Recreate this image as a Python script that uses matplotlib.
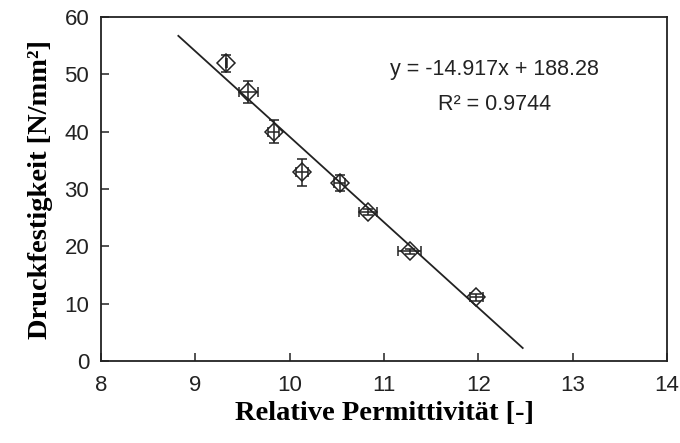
import matplotlib
matplotlib.use("Agg")
import matplotlib.pyplot as plt
import numpy as np

# Data
perm = [9.33, 9.56, 9.83, 10.13, 10.53, 10.83, 11.27, 11.98]
strength = [51.9, 46.9, 40.0, 32.9, 31.1, 26.0, 19.1, 11.1]
perm_err = [0.01, 0.10, 0.06, 0.06, 0.06, 0.10, 0.12, 0.07]
strength_err = [1.45, 1.95, 2.0, 2.3, 1.4, 0.5, 0.5, 0.6]

slope, intercept, r2 = -14.917, 188.28, 0.9744
trend_x = [8.82, 12.47]

xticks = [8, 9, 10, 11, 12, 13, 14]
yticks = [0, 10, 20, 30, 40, 50, 60]

fig = plt.figure(figsize=(6.8, 4.43), dpi=100)
ax = fig.add_axes([0.1485, 0.1851, 0.8325, 0.7765])

col = "#222222"
ax.errorbar(perm, strength, xerr=perm_err, yerr=strength_err, fmt="D",
            mfc="none", mec=col, ms=8.8, mew=1.1, ecolor=col, elinewidth=1.1,
            capsize=3.5, capthick=1.1, zorder=3)

tx = np.array(trend_x)
ax.plot(tx, slope * tx + intercept, color=col, lw=1.3, zorder=2)

ax.set_xlim(8, 14)
ax.set_ylim(0, 60)
ax.set_xticks(xticks)
ax.set_yticks(yticks)
ax.tick_params(direction="in", length=6, width=1.1, colors=col,
               labelsize=16, top=False, right=False)
ax.tick_params(axis="x", pad=10)
ax.tick_params(axis="y", pad=8.5)
for lab in ax.get_xticklabels() + ax.get_yticklabels():
    lab.set_family("Liberation Sans")
    lab.set_color("#222222")
for s in ax.spines.values():
    s.set_linewidth(1.3)
    s.set_color(col)

ax.set_xlabel("Relative Permittivität [-]", family="Liberation Serif",
              fontweight="bold", fontsize=20.5, labelpad=4, color="black")
ax.set_ylabel("Druckfestigkeit [N/mm²]", family="Liberation Serif",
              fontweight="bold", fontsize=20.5, labelpad=8, color="black")

ax.text(0.695, 0.848, f"y = {slope}x + {intercept}", transform=ax.transAxes,
        ha="center", va="center", fontsize=15.5, family="Liberation Sans", color=col)
ax.text(0.695, 0.747, f"R² = {r2}", transform=ax.transAxes,
        ha="center", va="center", fontsize=15.5, family="Liberation Sans", color=col)

fig.savefig("out.png", dpi=100)
